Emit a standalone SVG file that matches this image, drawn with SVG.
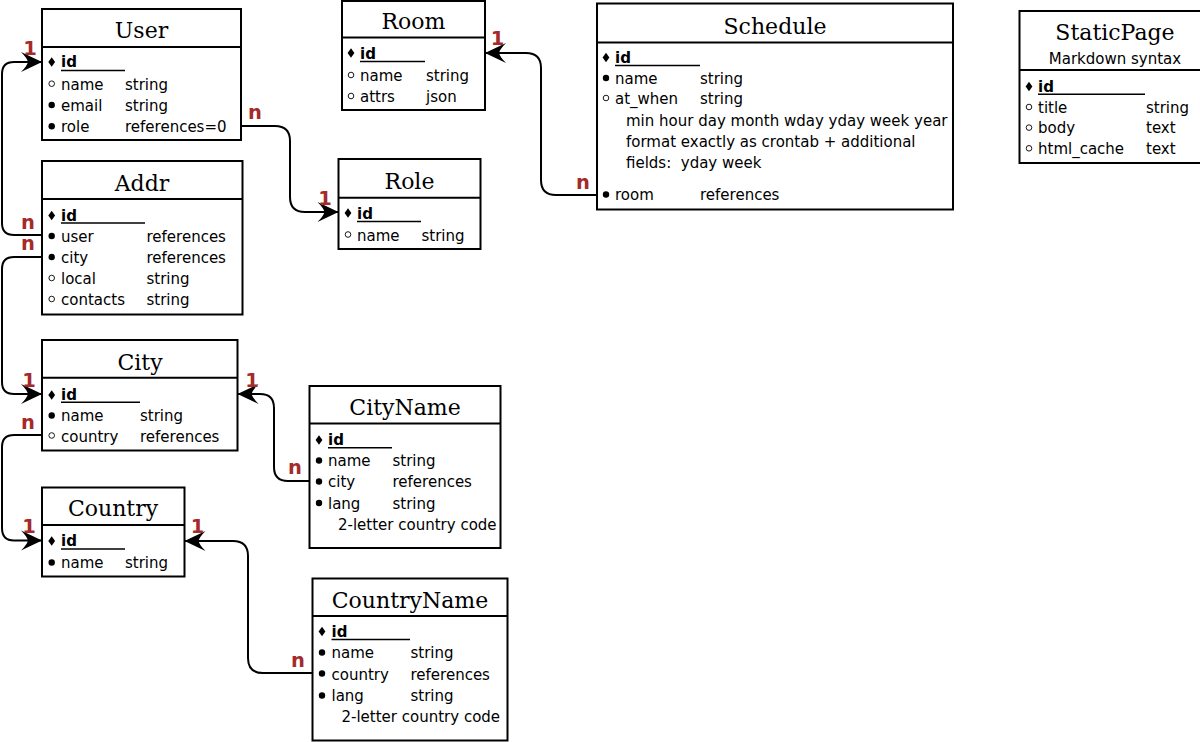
<svg xmlns="http://www.w3.org/2000/svg" width="1200" height="742" viewBox="0 0 1200 742">
<defs>
<style>
.box{fill:#fff;stroke:#000;stroke-width:2}
.hd{stroke:#000;stroke-width:2}
.t{font-family:"DejaVu Serif","Liberation Serif",serif;font-size:22px;text-anchor:middle;fill:#000}
.f{font-family:"DejaVu Sans","Liberation Sans",sans-serif;font-size:15px;fill:#000;white-space:pre}
.k{font-family:"DejaVu Sans","Liberation Sans",sans-serif;font-size:15px;font-weight:bold;fill:#000}
.u{stroke:#000;stroke-width:1.6}
.fb{fill:#000}
.hb{fill:#fff;stroke:#000;stroke-width:0.9}
.c{fill:none;stroke:#000;stroke-width:2}
.lb{font-family:"DejaVu Sans","Liberation Sans",sans-serif;font-size:19.5px;font-weight:bold;fill:#a52a2a;text-anchor:middle}
</style>
<marker id="ar" viewBox="-23 -11 24 22" refX="0" refY="0" markerWidth="24" markerHeight="22" markerUnits="userSpaceOnUse" orient="auto">
<path d="M0,0 L-21,-10 Q-15,-4 -14,0 Q-15,4 -21,10 Z" fill="#000"/>
</marker>
<path id="dia" d="M0,-4.8 L3.4,0 L0,4.8 L-3.4,0 Z"/>
</defs>

<g id="connectors">
<path class="c" d="M42,235 L14,235 Q2,235 2,223 L2,74 Q2,62 14,62 L42,62" marker-end="url(#ar)"/>
<path class="c" d="M42,257 L14,257 Q2,257 2,269 L2,382 Q2,394 14,394 L42,394" marker-end="url(#ar)"/>
<path class="c" d="M42,435 L14,435 Q2,435 2,447 L2,528 Q2,540.5 14,540.5 L42,540.5" marker-end="url(#ar)"/>
<path class="c" d="M241,126 L275,126 Q290,126 290,141 L290,197 Q290,212 305,212 L338.5,212" marker-end="url(#ar)"/>
<path class="c" d="M597,195 L556,195 Q541,195 541,180 L541,68 Q541,53 526,53 L485,53" marker-end="url(#ar)"/>
<path class="c" d="M309.5,481 L288,481 Q274,481 274,467 L274,408 Q274,394 260,394 L237.5,394" marker-end="url(#ar)"/>
<path class="c" d="M312.5,673 L263,673 Q248,673 248,658 L248,556 Q248,541 233,541 L184.5,541" marker-end="url(#ar)"/>
<text class="lb" x="30" y="55">1</text>
<text class="lb" x="28" y="228.5">n</text>
<text class="lb" x="28" y="249.5">n</text>
<text class="lb" x="255" y="118.5">n</text>
<text class="lb" x="325" y="205">1</text>
<text class="lb" x="497.5" y="45">1</text>
<text class="lb" x="583" y="188.5">n</text>
<text class="lb" x="29" y="387">1</text>
<text class="lb" x="252" y="387">1</text>
<text class="lb" x="28" y="428.5">n</text>
<text class="lb" x="295" y="473.5">n</text>
<text class="lb" x="29" y="533">1</text>
<text class="lb" x="197.5" y="533">1</text>
<text class="lb" x="298" y="666.5">n</text>
</g>

<g id="User">
<rect class="box" x="42" y="9" width="199" height="131"/>
<line class="hd" x1="42" y1="47" x2="241" y2="47"/>
<text class="t" x="141.5" y="37.5">User</text>
<use href="#dia" x="51.7" y="62"/>
<text class="k" x="61" y="67">id</text><line class="u" x1="61" y1="70.5" x2="125" y2="70.5"/>
<circle class="hb" cx="51.7" cy="83.7" r="2.8"/><text class="f" x="61" y="89.5">name</text><text class="f" x="125" y="89.5">string</text>
<circle class="fb" cx="51.7" cy="105" r="3.2"/><text class="f" x="61" y="110.7">email</text><text class="f" x="125" y="110.7">string</text>
<circle class="fb" cx="51.7" cy="126.2" r="3.2"/><text class="f" x="61" y="131.9">role</text><text class="f" x="125" y="131.9">references=0</text>
</g>

<g id="Room">
<rect class="box" x="342" y="1" width="143" height="109"/>
<line class="hd" x1="342" y1="37.5" x2="485" y2="37.5"/>
<text class="t" x="413.5" y="28.5">Room</text>
<use href="#dia" x="351" y="53"/>
<text class="k" x="360" y="58.5">id</text><line class="u" x1="360" y1="61.5" x2="425" y2="61.5"/>
<circle class="hb" cx="351" cy="75" r="2.8"/><text class="f" x="360" y="80.5">name</text><text class="f" x="426" y="80.5">string</text>
<circle class="hb" cx="351" cy="96" r="2.8"/><text class="f" x="360" y="101.5">attrs</text><text class="f" x="426" y="101.5">json</text>
</g>

<g id="Schedule">
<rect class="box" x="597" y="3.5" width="356" height="206"/>
<line class="hd" x1="597" y1="42.5" x2="953" y2="42.5"/>
<text class="t" x="775" y="33.5">Schedule</text>
<use href="#dia" x="606" y="57.5"/>
<text class="k" x="615" y="62.5">id</text><line class="u" x1="615" y1="65.5" x2="700" y2="65.5"/>
<circle class="fb" cx="606" cy="78" r="3.2"/><text class="f" x="615" y="83.5">name</text><text class="f" x="700" y="83.5">string</text>
<circle class="hb" cx="606" cy="98" r="2.8"/><text class="f" x="615" y="104">at_when</text><text class="f" x="700" y="104">string</text>
<text class="f" x="626" y="126">min hour day month wday yday week year</text>
<text class="f" x="626" y="147">format exactly as crontab + additional</text>
<text class="f" x="626" y="168">fields:  yday week</text>
<circle class="fb" cx="606" cy="194.5" r="3.2"/><text class="f" x="615" y="200">room</text><text class="f" x="700" y="200">references</text>
</g>

<g id="StaticPage">
<rect class="box" x="1019.5" y="11" width="192" height="152"/>
<line class="hd" x1="1019.5" y1="70" x2="1211.5" y2="70"/>
<text class="t" x="1115" y="39.5">StaticPage</text>
<text class="f" x="1115" y="63.5" text-anchor="middle">Markdown syntax</text>
<use href="#dia" x="1029" y="86.5"/>
<text class="k" x="1038" y="91.7">id</text><line class="u" x1="1038" y1="94.2" x2="1145" y2="94.2"/>
<circle class="hb" cx="1029" cy="107" r="2.8"/><text class="f" x="1038" y="112.7">title</text><text class="f" x="1146" y="112.7">string</text>
<circle class="hb" cx="1029" cy="127.6" r="2.8"/><text class="f" x="1038" y="133.3">body</text><text class="f" x="1146" y="133.3">text</text>
<circle class="hb" cx="1029" cy="148.3" r="2.8"/><text class="f" x="1038" y="154">html_cache</text><text class="f" x="1146" y="154">text</text>
</g>

<g id="Addr">
<rect class="box" x="42" y="161" width="200.5" height="153.5"/>
<line class="hd" x1="42" y1="199" x2="242.5" y2="199"/>
<text class="t" x="142" y="191">Addr</text>
<use href="#dia" x="51.7" y="215.5"/>
<text class="k" x="61" y="220.5">id</text><line class="u" x1="61" y1="223" x2="145" y2="223"/>
<circle class="fb" cx="51.7" cy="236" r="3.2"/><text class="f" x="61" y="241.7">user</text><text class="f" x="146.5" y="241.7">references</text>
<circle class="fb" cx="51.7" cy="257" r="3.2"/><text class="f" x="61" y="262.7">city</text><text class="f" x="146.5" y="262.7">references</text>
<circle class="hb" cx="51.7" cy="278" r="2.8"/><text class="f" x="61" y="284">local</text><text class="f" x="146.5" y="284">string</text>
<circle class="hb" cx="51.7" cy="299" r="2.8"/><text class="f" x="61" y="305">contacts</text><text class="f" x="146.5" y="305">string</text>
</g>

<g id="Role">
<rect class="box" x="338.5" y="159" width="142" height="90"/>
<line class="hd" x1="338.5" y1="197.7" x2="480.5" y2="197.7"/>
<text class="t" x="409.5" y="188.5">Role</text>
<use href="#dia" x="348" y="213"/>
<text class="k" x="357" y="218.5">id</text><line class="u" x1="357" y1="221.5" x2="421" y2="221.5"/>
<circle class="hb" cx="348" cy="234.5" r="2.8"/><text class="f" x="357" y="240.5">name</text><text class="f" x="421.5" y="240.5">string</text>
</g>

<g id="City">
<rect class="box" x="42" y="340" width="195.5" height="110.5"/>
<line class="hd" x1="42" y1="377.7" x2="237.5" y2="377.7"/>
<text class="t" x="140" y="370">City</text>
<use href="#dia" x="51.7" y="395"/>
<text class="k" x="61" y="400">id</text><line class="u" x1="61" y1="402.3" x2="140" y2="402.3"/>
<circle class="fb" cx="51.7" cy="415.5" r="3.2"/><text class="f" x="61" y="421">name</text><text class="f" x="140" y="421">string</text>
<circle class="hb" cx="51.7" cy="435.5" r="2.8"/><text class="f" x="61" y="441.7">country</text><text class="f" x="140" y="441.7">references</text>
</g>

<g id="CityName">
<rect class="box" x="309.5" y="386" width="191" height="162"/>
<line class="hd" x1="309.5" y1="423.5" x2="500.5" y2="423.5"/>
<text class="t" x="405" y="415">CityName</text>
<use href="#dia" x="319" y="440"/>
<text class="k" x="328" y="445">id</text><line class="u" x1="328" y1="447.7" x2="392" y2="447.7"/>
<circle class="fb" cx="319" cy="460.5" r="3.2"/><text class="f" x="328" y="466">name</text><text class="f" x="392.5" y="466">string</text>
<circle class="fb" cx="319" cy="481.5" r="3.2"/><text class="f" x="328" y="487.3">city</text><text class="f" x="392.5" y="487.3">references</text>
<circle class="fb" cx="319" cy="503" r="3.2"/><text class="f" x="328" y="509">lang</text><text class="f" x="392.5" y="509">string</text>
<text class="f" x="338" y="530">2-letter country code</text>
</g>

<g id="Country">
<rect class="box" x="42" y="487.5" width="142.5" height="89"/>
<line class="hd" x1="42" y1="525" x2="184.5" y2="525"/>
<text class="t" x="113" y="516">Country</text>
<use href="#dia" x="51.7" y="541"/>
<text class="k" x="61" y="546">id</text><line class="u" x1="61" y1="549" x2="125" y2="549"/>
<circle class="fb" cx="51.7" cy="562.5" r="3.2"/><text class="f" x="61" y="568.3">name</text><text class="f" x="125" y="568.3">string</text>
</g>

<g id="CountryName">
<rect class="box" x="312.5" y="578.5" width="195" height="162"/>
<line class="hd" x1="312.5" y1="616" x2="507.5" y2="616"/>
<text class="t" x="410" y="607.5">CountryName</text>
<use href="#dia" x="322" y="631.5"/>
<text class="k" x="331.5" y="636.5">id</text><line class="u" x1="331.5" y1="639.5" x2="410" y2="639.5"/>
<circle class="fb" cx="322" cy="652.5" r="3.2"/><text class="f" x="331.5" y="658.3">name</text><text class="f" x="410.5" y="658.3">string</text>
<circle class="fb" cx="322" cy="673.5" r="3.2"/><text class="f" x="331.5" y="679.5">country</text><text class="f" x="410.5" y="679.5">references</text>
<circle class="fb" cx="322" cy="695.5" r="3.2"/><text class="f" x="331.5" y="701">lang</text><text class="f" x="410.5" y="701">string</text>
<text class="f" x="341.5" y="721.7">2-letter country code</text>
</g>
</svg>
